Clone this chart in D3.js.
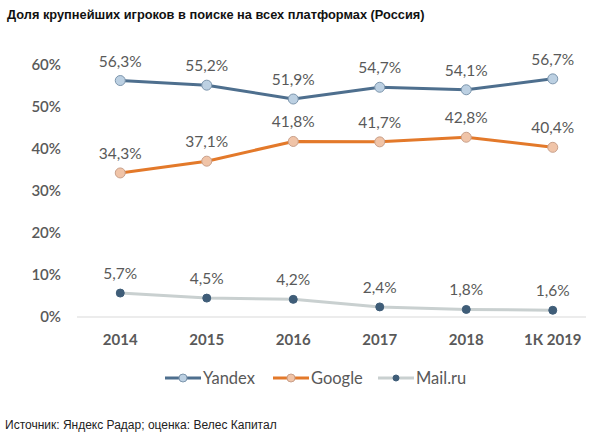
<!DOCTYPE html>
<html><head><meta charset="utf-8">
<script src="https://cdn.jsdelivr.net/npm/d3@7"></script>
<style>body{margin:0;background:#fff;} svg{display:block;}</style>
</head><body>
<svg id="c" width="590" height="437"></svg>
<script>
const categories = ["2014","2015","2016","2017","2018","1К 2019"];
const yandex = [56.3, 55.2, 51.9, 54.7, 54.1, 56.7];
const google = [34.3, 37.1, 41.8, 41.7, 42.8, 40.4];
const mailru = [5.7, 4.5, 4.2, 2.4, 1.8, 1.6];
const yTicks = [0, 10, 20, 30, 40, 50, 60];
const seriesNames = ["Yandex", "Google", "Mail.ru"];

const series = [
  {name: seriesNames[0], values: yandex, line: "#4e6f8e", fill: "#bcd0e2", stroke: "#7d96ad", r: 5, w: 3},
  {name: seriesNames[1], values: google, line: "#e3792a", fill: "#f0c4a8", stroke: "#c9a08a", r: 5, w: 3},
  {name: seriesNames[2], values: mailru, line: "#c9d0d0", fill: "#3f5d78", stroke: "#3f5d78", r: 4, w: 3}
];

const svg = d3.select("#c");
const font = "Lato, 'Open Sans', sans-serif";

svg.append("text").attr("x", 7).attr("y", 19)
  .attr("font-family", "Arial, 'Liberation Sans', sans-serif").attr("font-weight", "bold")
  .attr("font-size", 12.8).attr("fill", "#111")
  .text("Доля крупнейших игроков в поиске на всех платформах (Россия)");

const x = d3.scaleBand().domain(categories).range([77, 596]);
const y = d3.scaleLinear().domain([0, 60]).range([317, 65]);
const cx = d => x(d) + x.bandwidth() / 2;

// baseline
svg.append("line").attr("x1", 77).attr("x2", 586).attr("y1", y(0)).attr("y2", y(0))
  .attr("stroke", "#d9d9d9").attr("stroke-width", 1);

// y axis
const yAxis = d3.axisLeft(y).tickValues(yTicks).tickFormat(d => d + "%").tickSize(0).tickPadding(0);
const ga = svg.append("g").attr("transform", "translate(61,0)").call(yAxis);
ga.select(".domain").remove();
ga.selectAll("text").attr("font-family", font).attr("font-size", 15).attr("font-weight", 600).attr("fill", "#595959");

// x axis
const xAxis = d3.axisBottom(x).tickSize(0).tickPadding(0);
const gx = svg.append("g").attr("transform", "translate(0,334)").call(xAxis);
gx.select(".domain").remove();
gx.selectAll("text").attr("font-family", font).attr("font-size", 15).attr("font-weight", "bold").attr("fill", "#595959");

const line = d3.line().x((d, i) => cx(categories[i])).y(d => y(d));

series.forEach(s => {
  svg.append("path").datum(s.values).attr("d", line).attr("fill", "none")
    .attr("stroke", s.line).attr("stroke-width", s.w).attr("stroke-linejoin", "round");
  svg.selectAll(null).data(s.values).enter().append("circle")
    .attr("cx", (d, i) => cx(categories[i])).attr("cy", d => y(d)).attr("r", s.r)
    .attr("fill", s.fill).attr("stroke", s.stroke).attr("stroke-width", 1);
  svg.selectAll(null).data(s.values).enter().append("text")
    .attr("x", (d, i) => cx(categories[i])).attr("y", d => y(d) - 14)
    .attr("text-anchor", "middle").attr("font-family", font).attr("font-size", 15.5)
    .attr("fill", "#595959")
    .text(d => d3.format(".1f")(d).replace(".", ",") + "%");
});

// legend
const legX = [165, 273, 378];
series.forEach((s, i) => {
  const g = svg.append("g").attr("transform", `translate(${legX[i]},378)`);
  g.append("line").attr("x1", 0).attr("x2", 36).attr("y1", 0).attr("y2", 0)
    .attr("stroke", s.line).attr("stroke-width", 3);
  g.append("circle").attr("cx", 18).attr("cy", 0).attr("r", s.r - 1)
    .attr("fill", s.fill).attr("stroke", s.stroke).attr("stroke-width", 1);
  g.append("text").attr("x", 38).attr("y", 6).attr("font-family", font).attr("font-size", 16.5)
    .attr("fill", "#595959").text(s.name);
});

svg.append("text").attr("x", 5).attr("y", 429)
  .attr("font-family", "Arial, 'Liberation Sans', sans-serif").attr("font-size", 12).attr("fill", "#222")
  .text("Источник: Яндекс Радар; оценка: Велес Капитал");
</script>
</body></html>
